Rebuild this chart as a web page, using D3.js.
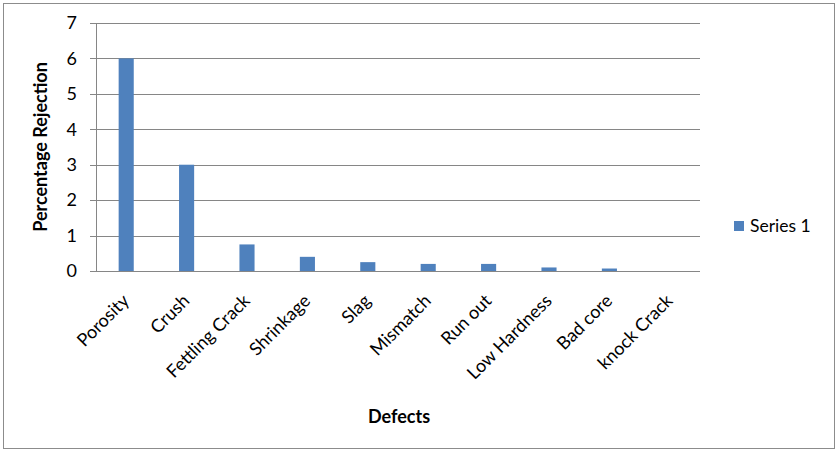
<!DOCTYPE html>
<html>
<head>
<meta charset="utf-8">
<script src="https://cdn.jsdelivr.net/npm/d3@7"></script>
<style>
  body { margin: 0; background: #fff; }
  svg { display: block; font-family: Lato, "Open Sans", sans-serif; }
</style>
</head>
<body>
<script>
const defects = ["Porosity", "Crush", "Fettling Crack", "Shrinkage", "Slag", "Mismatch", "Run out", "Low Hardness", "Bad core", "knock Crack"];
const rejection = [6, 3, 0.75, 0.4, 0.25, 0.2, 0.2, 0.1, 0.07, 0];
const yTicks = [0, 1, 2, 3, 4, 5, 6, 7];
const seriesName = "Series 1";

const width = 838, height = 452;
const margin = { left: 96, right: 138, top: 23, bottom: 181 };
const barColor = "#4f81bd";
const gridColor = "#868686";

const svg = d3.select("body").append("svg")
  .attr("width", width)
  .attr("height", height);

// outer frame
svg.append("rect")
  .attr("x", 3.5).attr("y", 3.5)
  .attr("width", width - 7).attr("height", height - 7)
  .attr("fill", "none")
  .attr("stroke", "#8c8c8c");

const x = d3.scaleBand()
  .domain(defects)
  .range([margin.left, width - margin.right])
  .paddingInner(0.75)
  .paddingOuter(0.375);

const y = d3.scaleLinear()
  .domain([0, 7])
  .range([height - margin.bottom, margin.top]);

// gridlines
svg.append("g")
  .selectAll("line")
  .data(yTicks)
  .join("line")
  .attr("x1", margin.left - 6)
  .attr("x2", width - margin.right)
  .attr("y1", d => Math.round(y(d)) + 0.5)
  .attr("y2", d => Math.round(y(d)) + 0.5)
  .attr("stroke", gridColor);

// y axis line
svg.append("line")
  .attr("x1", margin.left + 0.5).attr("x2", margin.left + 0.5)
  .attr("y1", y(7)).attr("y2", y(0))
  .attr("stroke", gridColor);

// y tick labels
svg.append("g")
  .selectAll("text")
  .data(yTicks)
  .join("text")
  .attr("x", margin.left - 19)
  .attr("y", d => y(d))
  .attr("dy", "0.35em")
  .attr("text-anchor", "end")
  .attr("font-size", 18)
  .attr("fill", "#000")
  .text(d => d);

// bars
svg.append("g")
  .selectAll("rect")
  .data(rejection)
  .join("rect")
  .attr("x", (d, i) => x(defects[i]))
  .attr("width", x.bandwidth())
  .attr("y", d => y(d))
  .attr("height", d => y(0) - y(d))
  .attr("fill", barColor);

// x labels, rotated
svg.append("g")
  .selectAll("text")
  .data(defects)
  .join("text")
  .attr("transform", d => `translate(${x(d) + x.bandwidth() / 2 + 4},${y(0) + 31}) rotate(-45)`)
  .attr("text-anchor", "end")
  .attr("font-size", 18)
  .attr("fill", "#000")
  .text(d => d);

// axis titles
svg.append("text")
  .attr("transform", `translate(47,${(y(0) + y(7)) / 2}) rotate(-90)`)
  .attr("text-anchor", "middle")
  .attr("font-size", 18)
  .attr("font-weight", "bold")
  .text("Percentage Rejection");

svg.append("text")
  .attr("x", 399)
  .attr("y", 423)
  .attr("text-anchor", "middle")
  .attr("font-size", 18)
  .attr("font-weight", "bold")
  .text("Defects");

// legend
const legend = svg.append("g").attr("transform", "translate(734,221)");
legend.append("rect")
  .attr("width", 10).attr("height", 10)
  .attr("fill", barColor);
legend.append("text")
  .attr("x", 16).attr("y", 5)
  .attr("dy", "0.35em")
  .attr("font-size", 17.5)
  .text(seriesName);
</script>
</body>
</html>
